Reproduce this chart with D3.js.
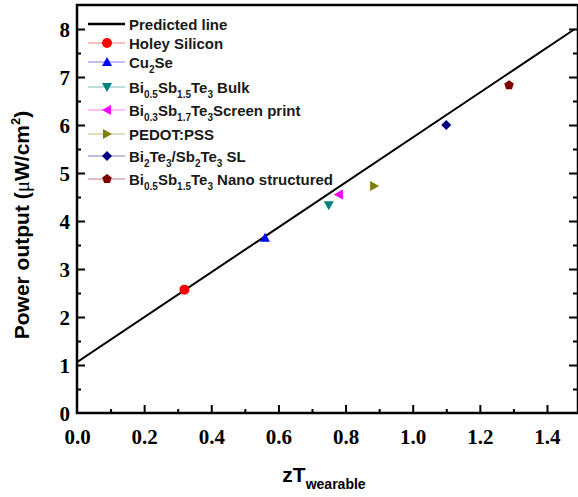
<!DOCTYPE html>
<html>
<head>
<meta charset="utf-8">
<script src="https://cdn.jsdelivr.net/npm/d3@7"></script>
<style>
  body { margin: 0; background: #fff; }
</style>
</head>
<body>
<svg id="chart" width="578" height="497"></svg>
<script>
// data
const names = ["Holey Silicon", "Cu2Se", "Bi0.5Sb1.5Te3 Bulk", "Bi0.3Sb1.7Te3 Screen print",
               "PEDOT:PSS", "Bi2Te3/Sb2Te3 SL", "Bi0.5Sb1.5Te3 Nano structured"]
const zt = [0.32, 0.56, 0.75, 0.78, 0.885, 1.10, 1.287]
const power = [2.57, 3.65, 4.33, 4.55, 4.73, 6.00, 6.83]
const colors = ["#ff0000", "#0000ff", "#008080", "#ff00ff", "#808000", "#000080", "#800000"]
const shapes = ["circle", "up", "down", "left", "right", "diamond", "pentagon"]
const line_x = [0, 1.483]
const line_y = [1.06, 8.0]
const x_ticks = [0, 0.2, 0.4, 0.6, 0.8, 1.0, 1.2, 1.4]
const y_ticks = [0, 1, 2, 3, 4, 5, 6, 7, 8]

// legend labels with subscripts: [text, isSub]
const legend_parts = [
  [["Predicted line", 0]],
  [["Holey Silicon", 0]],
  [["Cu", 0], ["2", 1], ["Se", 0]],
  [["Bi", 0], ["0.5", 1], ["Sb", 0], ["1.5", 1], ["Te", 0], ["3", 1], [" Bulk", 0]],
  [["Bi", 0], ["0.3", 1], ["Sb", 0], ["1.7", 1], ["Te", 0], ["3", 1], ["Screen print", 0]],
  [["PEDOT:PSS", 0]],
  [["Bi", 0], ["2", 1], ["Te", 0], ["3", 1], ["/Sb", 0], ["2", 1], ["Te", 0], ["3", 1], [" SL", 0]],
  [["Bi", 0], ["0.5", 1], ["Sb", 0], ["1.5", 1], ["Te", 0], ["3", 1], [" Nano structured", 0]]
]

const SERIF = '"Liberation Serif"'
const SANS = '"Liberation Sans"'

const svg = d3.select("#chart")
const p_left = 77, p_right = 578, p_top = 5, p_bottom = 413

const x = d3.scaleLinear().domain([0, (p_right - p_left) / 335.7]).range([p_left, p_right])
const y = d3.scaleLinear().domain([0, 8.5]).range([p_bottom, p_top])

function symbol_path(shape, r){
    if(shape == "circle") return d3.symbol(d3.symbolCircle, Math.PI*r*r)()
    if(shape == "diamond") return `M0,${-r}L${r},0L0,${r}L${-r},0Z`
    if(shape == "pentagon"){
        let pts = d3.range(5).map(i => {
            const a = -Math.PI/2 + i*2*Math.PI/5
            return [r*Math.cos(a), r*Math.sin(a)]
        })
        return "M" + pts.map(p => p.join(",")).join("L") + "Z"
    }
    const tri = {
        up: [[0,-r],[r,r*0.8],[-r,r*0.8]],
        down: [[0,r],[r,-r*0.8],[-r,-r*0.8]],
        left: [[-r,0],[r*0.8,-r],[r*0.8,r]],
        right: [[r,0],[-r*0.8,-r],[-r*0.8,r]]
    }[shape]
    return "M" + tri.map(p => p.join(",")).join("L") + "Z"
}

// axes
const xAxis = d3.axisBottom(x).tickValues(d3.range(0, 1.46, 0.1)).tickSize(-8)
    .tickFormat(d => x_ticks.some(t => Math.abs(t-d) < 1e-6) ? d3.format(".1f")(d) : "")
const gx = svg.append("g").attr("transform", `translate(0,${p_bottom})`).call(xAxis)
gx.selectAll(".tick line").attr("y2", (d,i) => i%2==0 ? -8 : -4)
gx.selectAll(".tick").filter(d => d < 0.01).select("line").remove()

const yAxis = d3.axisLeft(y).tickValues(d3.range(0, 8.01, 0.5)).tickSize(-8)
    .tickFormat(d => y_ticks.includes(d) ? d : "")
const gy = svg.append("g").attr("transform", `translate(${p_left},0)`).call(yAxis)
gy.selectAll(".tick line").attr("x2", (d) => Number.isInteger(d) ? 8 : 4)
gy.selectAll(".tick").filter(d => d == 0).select("line").remove()

const yAxisR = d3.axisRight(y).tickValues(d3.range(0.5, 8.01, 0.5)).tickFormat("")
const gyr = svg.append("g").attr("transform", `translate(${p_right - 1},0)`).call(yAxisR)
gyr.selectAll(".tick line").attr("x2", (d) => Number.isInteger(d) ? -8 : -4)

for(const g of [gx, gy, gyr]){
    g.attr("font-family", null).attr("font-size", null)
    g.select(".domain").remove()
    g.selectAll(".tick line").attr("stroke", "#000").attr("stroke-width", 2)
    g.selectAll("text").style("font-family", SERIF)
        .style("font-weight", "bold").style("font-size", "21px").attr("fill", "#000")
}
gx.selectAll("text").attr("y", 16).attr("dy", "0.71em")
gy.selectAll("text").attr("x", -7).attr("dy", "0.34em")

// frame
svg.append("rect").attr("x", p_left).attr("y", p_top)
    .attr("width", p_right-p_left).attr("height", p_bottom-p_top)
    .attr("fill", "none").attr("stroke", "#000").attr("stroke-width", 2.5)

// clip for the line
svg.append("clipPath").attr("id", "clip").append("rect")
    .attr("x", p_left).attr("y", p_top).attr("width", p_right-p_left).attr("height", p_bottom-p_top)

svg.append("line").attr("clip-path", "url(#clip)")
    .attr("x1", x(line_x[0])).attr("y1", y(line_y[0]))
    .attr("x2", x(line_x[1])).attr("y2", y(line_y[1]))
    .attr("stroke", "#000").attr("stroke-width", 2)

// points
svg.selectAll(".pt").data(zt).join("path")
    .attr("class", "pt")
    .attr("transform", (d,i) => `translate(${x(d)},${y(power[i])})`)
    .attr("d", (d,i) => symbol_path(shapes[i], 5))
    .attr("fill", (d,i) => colors[i])

// legend
const leg_y = [24, 43, 62, 87, 110, 134, 156, 179]
const leg = svg.append("g")
legend_parts.forEach((parts, i) => {
    const yy = leg_y[i]
    if(i == 0){
        leg.append("line").attr("x1", 88).attr("x2", 125).attr("y1", yy).attr("y2", yy)
            .attr("stroke", "#000").attr("stroke-width", 2.5)
    }else{
        leg.append("line").attr("x1", 88).attr("x2", 125).attr("y1", yy).attr("y2", yy)
            .attr("stroke", colors[i-1]).attr("stroke-width", 1).attr("opacity", 0.5)
        leg.append("path").attr("transform", `translate(107,${yy})`)
            .attr("d", symbol_path(shapes[i-1], 5)).attr("fill", colors[i-1])
    }
    const t = leg.append("text").attr("x", 129).attr("y", yy + 5.5)
        .style("font-family", SANS)
        .style("font-weight", "bold").style("font-size", "15px").attr("fill", "#1a1a1a")
    let shift = 0
    for(const [s, sub] of parts){
        const target = sub ? 5 : 0
        t.append("tspan").text(s)
            .style("font-size", sub ? "10px" : "15px")
            .attr("dy", target - shift)
        shift = target
    }
})

// axis titles
svg.append("text")
    .attr("transform", `translate(29,225) rotate(-90)`)
    .attr("text-anchor", "middle")
    .style("font-family", SANS)
    .style("font-weight", "bold").style("font-size", "21px").attr("fill", "#000")
    .call(t => {
        t.append("tspan").text("Power output (")
        t.append("tspan").text("\u03bc").style("font-family", SERIF).style("font-weight", "normal")
        t.append("tspan").text("W/cm")
        t.append("tspan").text("2").style("font-size", "13px").attr("dy", -9)
        t.append("tspan").text(")").attr("dy", 9)
    })

svg.append("text").attr("x", 324).attr("y", 482)
    .attr("text-anchor", "middle")
    .style("font-family", SANS)
    .style("font-weight", "bold").attr("fill", "#000")
    .call(t => {
        t.append("tspan").text("zT").style("font-size", "21px")
        t.append("tspan").text("wearable").style("font-size", "14px").attr("dy", 7)
    })
</script>
</body>
</html>
